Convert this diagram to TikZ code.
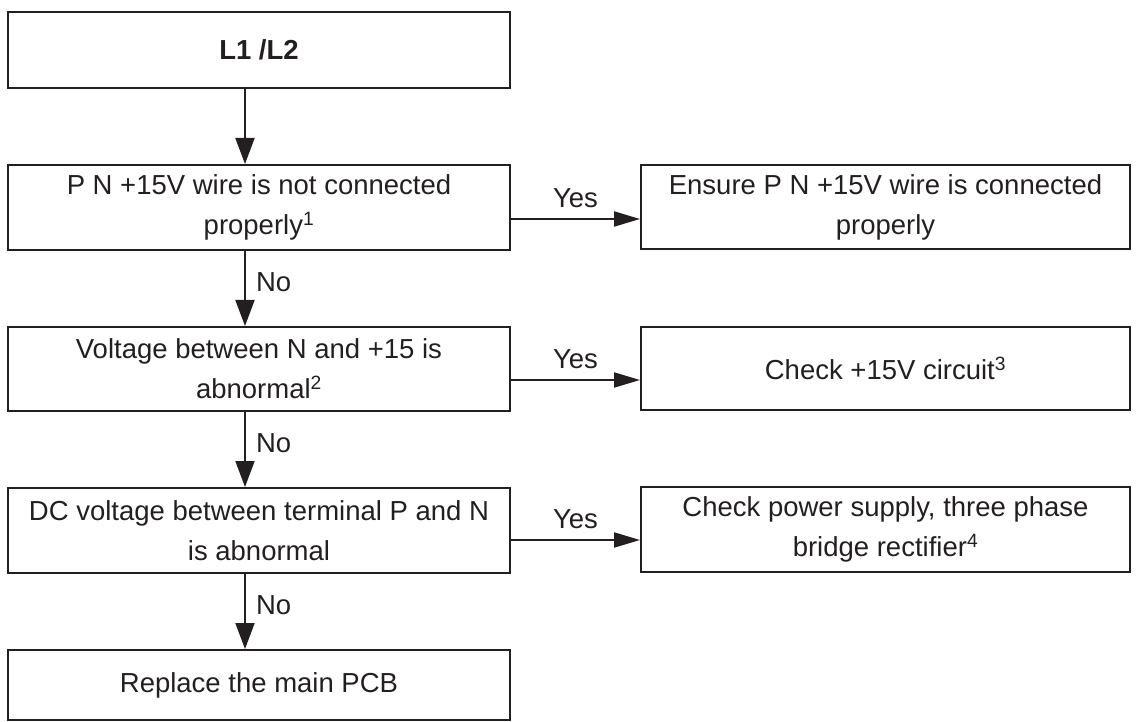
\documentclass[tikz,border=0pt]{standalone}
\usepackage{fontspec}
\setmainfont{Liberation Sans}
\usetikzlibrary{arrows.meta}
\definecolor{ink}{HTML}{231F20}
\begin{document}
\begin{tikzpicture}[x=1pt,y=-1pt,
  every node/.style={text=ink},
  box/.style={draw=ink, line width=2pt, rectangle, inner sep=0pt, align=center,
    font=\fontsize{27.5}{40}\selectfont},
  lbox/.style={box, minimum width=502pt},
  rbox/.style={box, minimum width=489pt},
  varr/.style={draw=ink, line width=2pt, -{Triangle[length=26pt,width=19pt]}},
  harr/.style={draw=ink, line width=2pt, -{Triangle[length=26pt,width=15pt]}},
  lab/.style={font=\fontsize{27.5}{33}\selectfont, inner sep=0pt}
]
\useasboundingbox (0,0) rectangle (1136,722);
\coordinate (ax) at (245,0);

\node[lbox, minimum height=76pt] (n1) at (259,50) {\textbf{L1 /L2}};
\node[lbox, minimum height=85pt] (n2) at (259,207.5) {P N +15V wire is not connected\\properly\textsuperscript{1}};
\node[rbox, minimum height=84pt] (r1) at (885.5,207) {Ensure P N +15V wire is connected\\properly};
\node[lbox, minimum height=84pt] (n3) at (259,369) {Voltage between N and +15 is\\abnormal\textsuperscript{2}};
\node[rbox, minimum height=83pt] (r2) at (885.5,368.5) {Check +15V circuit\textsuperscript{3}};
\node[lbox, minimum height=85pt] (n4) at (259,530.5) {DC voltage between terminal P and N\\is abnormal};
\node[rbox, minimum height=85pt] (r3) at (885.5,529.5) {Check power supply, three phase\\bridge rectifier\textsuperscript{4}};
\node[lbox, minimum height=70pt] (n5) at (259,685) {Replace the main PCB};

\draw[varr] (n1.south -| ax) -- (n2.north -| ax);
\draw[varr] (n2.south -| ax) -- node[lab, midway, anchor=west, xshift=10pt, yshift=6pt] (no1) {No} (n3.north -| ax);
\draw[varr] (n3.south -| ax) -- node[lab, midway, anchor=west, xshift=10pt, yshift=6pt] (no2) {No} (n4.north -| ax);
\draw[varr] (n4.south -| ax) -- node[lab, midway, anchor=west, xshift=10pt, yshift=6pt] (no3) {No} (n5.north -| ax);

\draw[harr] ([yshift=-11.5pt]n2.east) -- node[lab, midway, yshift=21pt] (y1) {Yes} ([yshift=-11.5pt]n2.east -| r1.west);
\draw[harr] ([yshift=-11pt]n3.east) -- node[lab, midway, yshift=21pt] (y2) {Yes} ([yshift=-11pt]n3.east -| r2.west);
\draw[harr] ([yshift=-9.5pt]n4.east) -- node[lab, midway, yshift=21pt] (y3) {Yes} ([yshift=-9.5pt]n4.east -| r3.west);
\end{tikzpicture}
\end{document}
